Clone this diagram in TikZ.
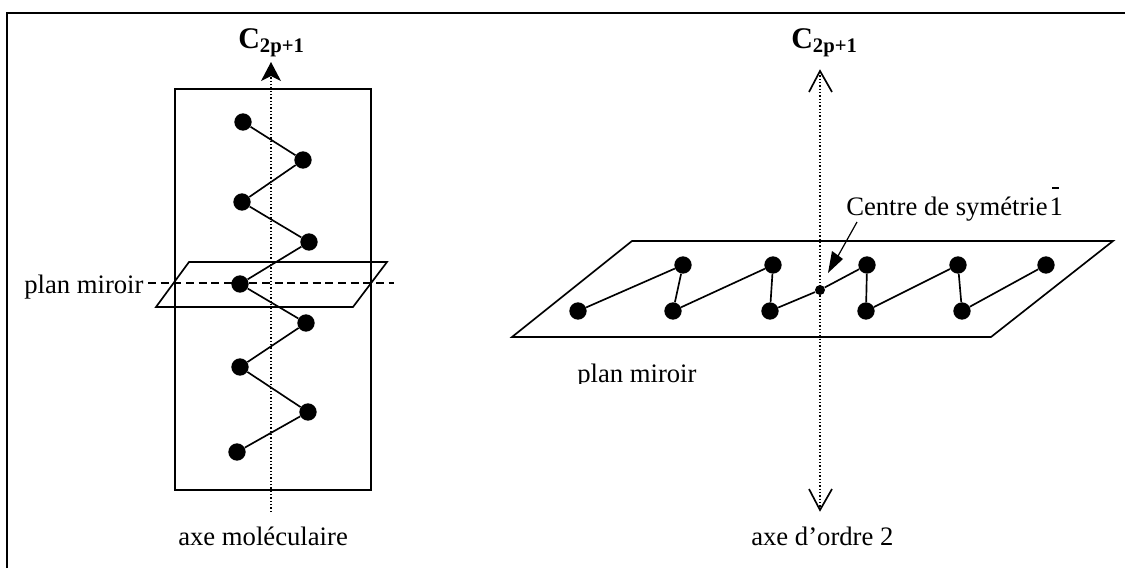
\documentclass[tikz,border=0pt]{standalone}
\usepackage{fontspec}
\setmainfont{Liberation Serif}
\usetikzlibrary{arrows.meta}
\tikzset{
  x=0.75pt,y=-0.75pt,
  ln/.style={line width=1.25pt,black},
  atom/.style={circle,fill=black,inner sep=0pt,minimum size=13pt},
  small atom/.style={circle,fill=black,inner sep=0pt,minimum size=7.5pt},
  axis/.style={line width=1pt,dash pattern=on 1pt off 1.5pt,black},
  mirrorline/.style={line width=1pt,dash pattern=on 6pt off 3.5pt},
  lbl/.style={inner sep=0pt,font=\fontsize{20}{24}\selectfont},
  sym/.style={inner sep=0pt,font=\fontsize{22.5}{26}\selectfont\bfseries},
}
\newcommand{\subs}[1]{\raisebox{-3pt}{\fontsize{15.5}{18}\selectfont\bfseries #1}}
\begin{document}
\begin{tikzpicture}
\useasboundingbox (0,0) rectangle (1125,568);
\draw[line width=1.5pt] (7,568) -- (7,13) -- (1125,13);
% left
\draw[ln] (175,89) rectangle (371,490);
\draw[ln] (189,262) -- (387,262) -- (353,307) -- (156,307) -- cycle;
\coordinate (d1) at (148,283);
\coordinate (d2) at (394,283);
\draw[mirrorline] (d1) -- (d2);
\coordinate (a1) at (271,512);
\coordinate (a2) at (271,76);
\draw[axis] (a1) -- (a2);
\path[fill=black] (271,62) -- (281,81) -- (271,76) -- (261,81) -- cycle;
\foreach \n/\x/\y in {l1/243/122,l2/303/160,l3/242/202,l4/309/242,l5/240/284,l6/306/323,l7/240/367,l8/308/412,l9/237/452}
  \node[atom] (\n) at (\x,\y) {};
\draw[ln] (l1)--(l2)--(l3)--(l4)--(l5)--(l6)--(l7)--(l8)--(l9);
% right
\draw[ln] (632,241) -- (1113,241) -- (991,337) -- (512,337) -- cycle;
\coordinate (b1) at (820,72);
\coordinate (b2) at (820,509);
\draw[axis,line width=0.9pt] (b1) -- (b2);
\draw[ln,line join=miter] (809,92) -- (820,71) -- (832,92);
\draw[ln,line join=miter] (809,489) -- (820,510) -- (832,489);
\foreach \n/\x/\y in {r1/578/311,r2/683/265,r3/673/311,r4/773/265,r5/770/311,r7/867/265,r8/866/311,r9/958/265,r10/962/311,r11/1046/265}
  \node[atom] (\n) at (\x,\y) {};
\node[small atom] (r6) at (820,290) {};
\draw[ln] (r1)--(r2)--(r3)--(r4)--(r5)--(r6)--(r7)--(r8)--(r9)--(r10)--(r11);
% labels
\node[sym,anchor=base west] (c1) at (238,48) {C\subs{2p+1}};
\node[sym,anchor=base west] (c2) at (791,48) {C\subs{2p+1}};
\node[lbl,anchor=base west] (t1) at (24,293) {plan miroir};
\node[lbl,anchor=base west] (t2) at (178,545) {axe moléculaire};
\node[lbl,anchor=base west] (t3) at (751,545) {axe d’ordre 2};
\begin{scope}
\clip (560,340) rectangle (720,383);
\node[lbl,anchor=base west] (t4) at (577,382) {plan miroir};
\end{scope}
\node[lbl,anchor=base west] (t5) at (846,215) {Centre de symétrie\kern1.5pt 1};
\draw[line width=0.8pt] (1052,188) -- (1059,188);
\coordinate (s) at (857,222);
\coordinate (p) at (828,273);
\coordinate (q) at (838,256);
\draw[line width=0.9pt] (s) -- (q);
\path[fill=black] (p) -- (832,251) -- (843,259) -- cycle;
\end{tikzpicture}
\end{document}
